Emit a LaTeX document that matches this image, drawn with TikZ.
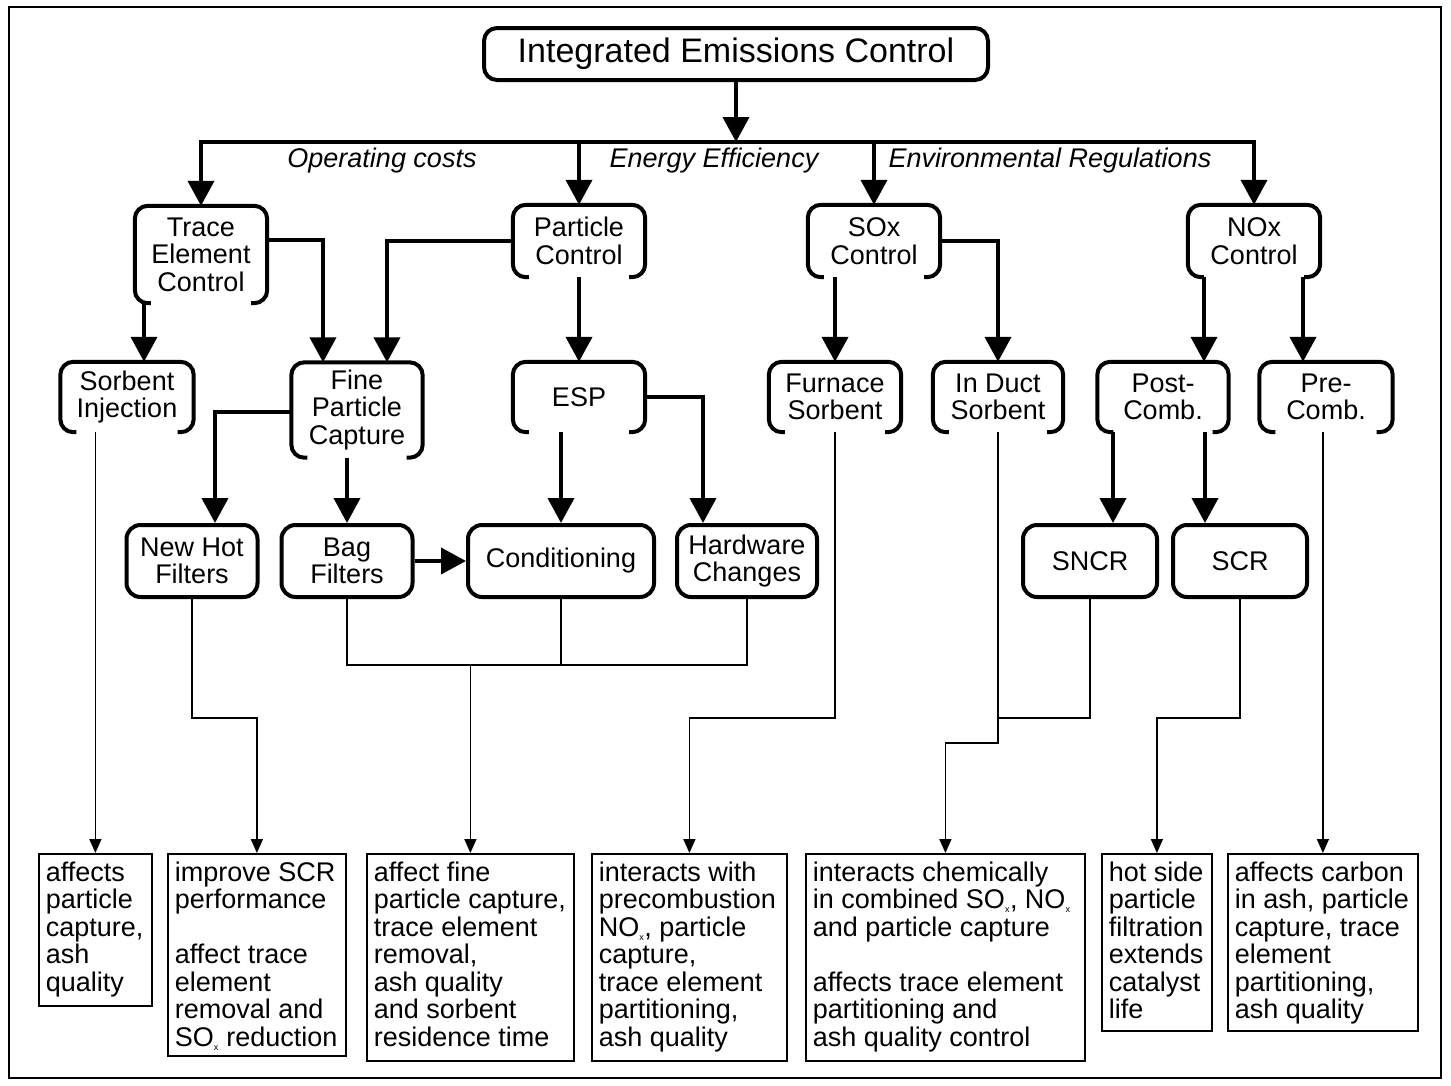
\documentclass[tikz,border=0pt]{standalone}
\usepackage{fontspec}
\setmainfont{Liberation Sans}
\usetikzlibrary{arrows.meta,calc}
\newcommand\brk[1]{\draw[brkline] ($(#1.south west)+(16,0)$) -- (#1.south west) -- (#1.north west) -- (#1.north east) -- (#1.south east) -- ($(#1.south east)+(-16,0)$);}
\newcommand\subx{\textsubscript{\fontsize{9}{9}\selectfont x}}
\begin{document}
\begin{tikzpicture}[x=1pt,y=-1pt,
  font=\fontsize{27}{27.5}\selectfont,
  brnode/.style={minimum height=72pt, align=center, inner sep=0pt},
  brkline/.style={line width=4pt, rounded corners=13pt},
  fullbox/.style={draw, line width=4pt, rounded corners=14pt, minimum height=72pt, align=center, inner sep=0pt},
  thk/.style={line width=4pt, -{Triangle[width=26pt,length=25pt]}},
  thn/.style={line width=1.5pt},
  thna/.style={line width=1.5pt, -{Triangle[width=12pt,length=14pt]}},
  outbox/.style={draw, line width=1.8pt, anchor=north west, inner xsep=7pt, inner ysep=8pt},
  lab/.style={anchor=base, font=\fontsize{27}{27.5}\selectfont\itshape}]
\useasboundingbox (0,0) rectangle (1451,1085);
\draw[line width=2pt] (9,7) rectangle (1441,1078);

% title
\node[draw, line width=4pt, rounded corners=13pt, minimum width=504pt, minimum height=52pt, inner sep=0pt, font=\fontsize{34}{36}\selectfont] (title) at (736,54) {Integrated Emissions Control};

% second row
\node[brnode, minimum width=132pt, minimum height=97pt] (tec) at (201,254.5) {Trace\\Element\\Control};
\node[brnode, minimum width=132pt] (pc) at (579,241) {Particle\\Control};
\node[brnode, minimum width=132pt] (sox) at (874,241) {SOx\\Control};
\node[brnode, minimum width=132pt] (nox) at (1254,241) {NOx\\Control};
\brk{tec}\brk{pc}\brk{sox}\brk{nox}

% third row
\node[brnode, minimum width=133pt, minimum height=70pt] (si) at (127,397) {Sorbent\\Injection};
\node[brnode, minimum width=131pt, minimum height=95pt] (fpc) at (357,410) {Fine\\Particle\\Capture};
\node[brnode, minimum width=132pt, minimum height=70pt] (esp) at (579,397) {ESP};
\node[brnode, minimum width=132pt, minimum height=70pt] (fs) at (835,397) {Furnace\\Sorbent};
\node[brnode, minimum width=130pt, minimum height=70pt] (ids) at (998,397) {In Duct\\Sorbent};
\node[brnode, minimum width=131pt, minimum height=70pt] (post) at (1163,397) {Post-\\Comb.};
\node[brnode, minimum width=133pt, minimum height=70pt] (pre) at (1326,397) {Pre-\\Comb.};
\brk{si}\brk{fpc}\brk{esp}\brk{fs}\brk{ids}\brk{post}\brk{pre}

% fourth row
\node[fullbox, minimum width=131pt] (nhf) at (192,561) {New Hot\\Filters};
\node[fullbox, minimum width=131pt] (bf) at (347,561) {Bag\\Filters};
\node[fullbox, minimum width=186pt] (cond) at (561,561) {Conditioning};
\node[fullbox, minimum width=140pt] (hw) at (747,561) {Hardware\\Changes};
\node[fullbox, minimum width=134pt] (sncr) at (1090,561) {SNCR};
\node[fullbox, minimum width=134pt] (scr) at (1240,561) {SCR};

% output boxes
\node[outbox] (o1) at (38,853) {\parbox[c][136pt][t]{99pt}{\raggedright affects\\particle\\capture,\\ash\\quality}};
\node[outbox] (o2) at (167,853) {\parbox[c][186pt][t]{164pt}{\raggedright improve~SCR\\performance\\\mbox{}\\affect~trace\\element\\removal~and\\SO\subx{}~reduction}};
\node[outbox] (o3) at (366,853) {\parbox[c][191pt][t]{193pt}{\raggedright affect~fine\\particle~capture,\\trace~element\\removal,\\ash~quality\\and~sorbent\\residence~time}};
\node[outbox] (o4) at (591,853) {\parbox[c][191pt][t]{181pt}{\raggedright interacts~with\\precombustion\\NO\subx,~particle\\capture,\\trace~element\\partitioning,\\ash~quality}};
\node[outbox] (o5) at (805,853) {\parbox[c][191pt][t]{265pt}{\raggedright interacts~chemically\\in~combined~SO\subx,~NO\subx\\and~particle~capture\\\mbox{}\\affects~trace~element\\partitioning~and\\ash~quality~control}};
\node[outbox] (o6) at (1101,853) {\parbox[c][161pt][t]{96pt}{\raggedright hot~side\\particle\\filtration\\extends\\catalyst\\life}};
\node[outbox] (o7) at (1227,853) {\parbox[c][161pt][t]{176pt}{\raggedright affects~carbon\\in~ash,~particle\\capture,~trace\\element\\partitioning,\\ash~quality}};

% title and bus
\coordinate (busc) at ($(title.south)+(0,60)$);
\draw[thk] (title.south) -- (busc);
\draw[line width=4pt, line cap=rect] (tec.north |- busc) -- (nox.north |- busc);
\foreach \n in {tec,pc,sox,nox} \draw[thk] (\n.north |- busc) -- (\n.north);
\node[lab] (l1) at (382,167) {Operating costs};
\node[lab] (l2) at (714,167) {Energy Efficiency};
\node[lab] (l3) at (1050,167) {Environmental Regulations};

% thick connectors row 2 -> row 3
\coordinate (sia) at ($(si.north)+(17,0)$);
\draw[thk] (tec.south -| sia) -- (sia);
\coordinate (fpca) at ($(fpc.north)+(-34,0)$);
\draw[thk] ($(tec.east)+(0,-14.5)$) -| (fpca);
\coordinate (fpcb) at ($(fpc.north)+(30,0)$);
\draw[thk] (pc.west) -| (fpcb);
\draw[thk] (pc.south) -- (esp.north);
\draw[thk] (fs.north |- sox.south) -- (fs.north);
\draw[thk] (sox.east) -| (ids.north);
\coordinate (posta) at ($(post.north)+(41,0)$);
\draw[thk] (posta |- nox.south) -- (posta);
\coordinate (prea) at ($(pre.north)+(-23,0)$);
\draw[thk] (prea |- nox.south) -- (prea);

% thick connectors row 3 -> row 4
\coordinate (nhfa) at ($(nhf.north)+(23,0)$);
\draw[thk] ($(fpc.west)+(0,2)$) -| (nhfa);
\draw[thk] (bf.north |- fpc.south) -- (bf.north);
\draw[thk] (cond.north |- esp.south) -- (cond.north);
\coordinate (hwa) at ($(hw.north)+(-44,0)$);
\draw[thk] (esp.east) -| (hwa);
\draw[thk] (bf.east) -- (cond.west);
\coordinate (sncra) at ($(sncr.north)+(23,0)$);
\draw[thk] (sncra |- post.south) -- (sncra);
\coordinate (scra) at ($(scr.north)+(-35,0)$);
\draw[thk] (scra |- post.south) -- (scra);

% thin connectors to outputs
\draw[thna] (o1.north |- si.south) -- (o1.north);
\draw[thna] (nhf.south) |- ($(o2.north)+(0,-135)$) -- (o2.north);
\coordinate (j3) at ($(o3.north)+(0,-188)$);
\draw[thn] (bf.south) |- (j3);
\draw[thn] (hw.south) |- (j3);
\draw[thn] (cond.south) -- (cond.south |- j3);
\draw[thna] (j3) -- (o3.north);
\draw[thna] (fs.south) |- ($(o4.north)+(0,-135)$) -- (o4.north);
\coordinate (j5) at ($(ids.south)+(0,286)$);
\draw[thn] (sncr.south) |- (j5);
\draw[thna] (ids.south) -- (j5) |- ($(o5.north)+(0,-110)$) -- (o5.north);
\draw[thna] (scr.south) |- ($(o6.north)+(0,-135)$) -- (o6.north);
\draw[thna] (o7.north |- pre.south) -- (o7.north);
\end{tikzpicture}
\end{document}
